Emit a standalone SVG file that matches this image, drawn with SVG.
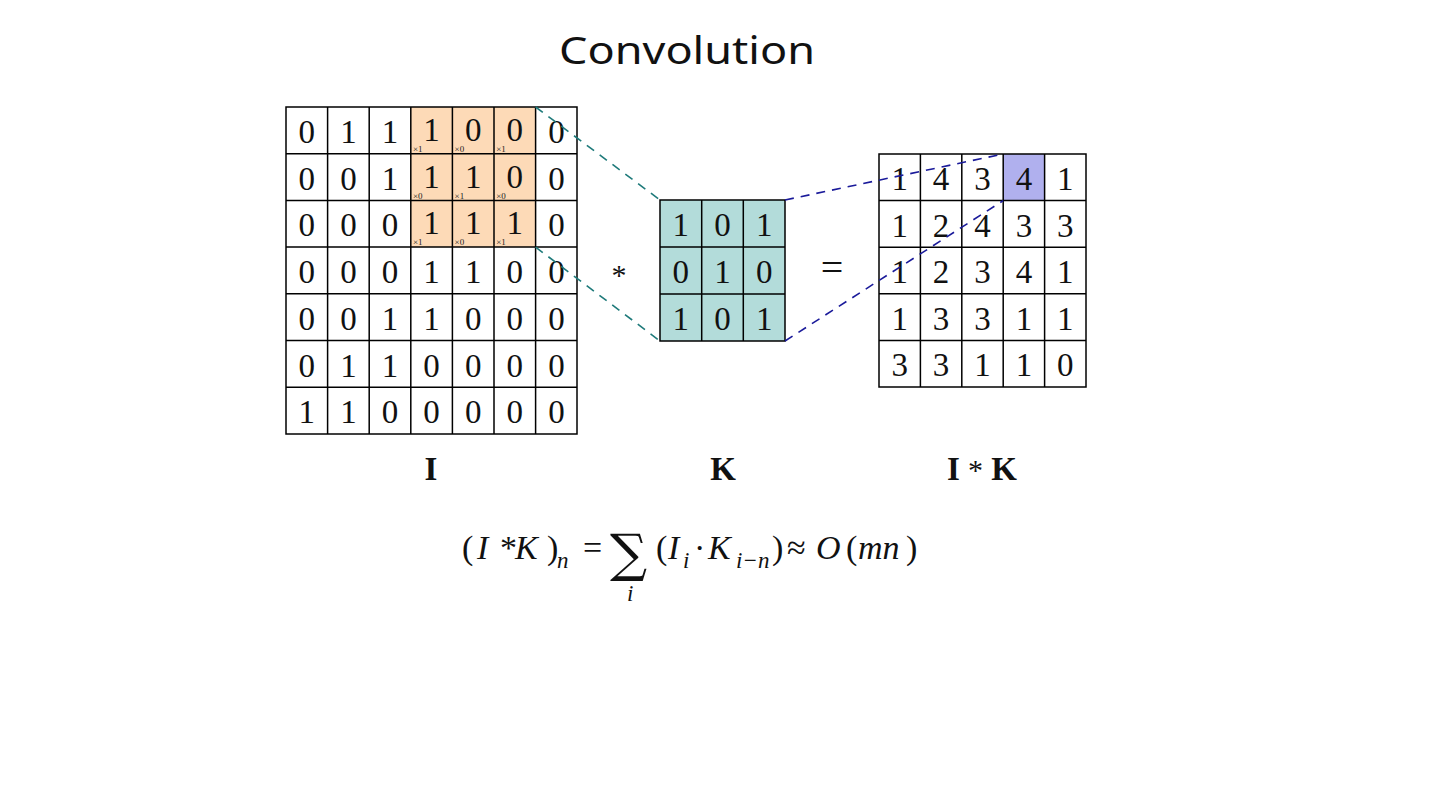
<svg xmlns="http://www.w3.org/2000/svg" width="1440" height="810" viewBox="0 0 1440 810">
<style>
.num{font-family:'Liberation Serif',serif;font-size:33px;fill:#111;text-anchor:middle}
.sub{font-family:'Liberation Serif',serif;font-size:9px;fill:#222}
.grid{fill:none;stroke:#000;stroke-width:1.5}
.lab{font-family:'Liberation Serif',serif;font-size:33px;font-weight:bold;fill:#111;text-anchor:middle}
.f{font-family:'Liberation Serif',serif;font-size:34px;fill:#111}
.fi{font-family:'Liberation Serif',serif;font-size:34px;font-style:italic;fill:#111}
.fs{font-family:'Liberation Serif',serif;font-size:23px;font-style:italic;fill:#111}
.teal{stroke:#1E7A7A;stroke-width:1.6;stroke-dasharray:9 7;fill:none}
.navy{stroke:#1A1A9A;stroke-width:1.6;stroke-dasharray:9 7;fill:none}
</style>
<rect width="1440" height="810" fill="#fff"/>
<text id="title" x="687" y="64" font-family="'Noto Sans',sans-serif" font-size="38" text-anchor="middle" fill="#111" textLength="256" lengthAdjust="spacingAndGlyphs">Convolution</text>

<g id="matrix-I">
<rect x="411" y="107" width="124.8" height="140.1" fill="#FDDAB7"/>
<rect class="grid" x="286" y="107" width="291" height="327"/>
<path class="grid" d="M327.6 107V434M369.2 107V434M410.8 107V434M452.4 107V434M494 107V434M535.6 107V434M286 153.7H577M286 200.4H577M286 247.1H577M286 293.8H577M286 340.5H577M286 387.2H577"/>
<text class="num" x="306.8 348.4 390" y="143">011</text><text class="num" x="431.6 473.2 514.8" y="141">100</text><text class="num" x="556.4" y="143">0</text>
<text class="num" x="306.8 348.4 390" y="189.7">001</text><text class="num" x="431.6 473.2 514.8" y="187.7">110</text><text class="num" x="556.4" y="189.7">0</text>
<text class="num" x="306.8 348.4 390" y="236.4">000</text><text class="num" x="431.6 473.2 514.8" y="234.4">111</text><text class="num" x="556.4" y="236.4">0</text>
<text class="num" x="306.8 348.4 390 431.6 473.2 514.8 556.4" y="283.1">0001100</text>
<text class="num" x="306.8 348.4 390 431.6 473.2 514.8 556.4" y="329.8">0011000</text>
<text class="num" x="306.8 348.4 390 431.6 473.2 514.8 556.4" y="376.5">0110000</text>
<text class="num" x="306.8 348.4 390 431.6 473.2 514.8 556.4" y="423.2">1100000</text>
<text class="sub" x="413" y="152">×1</text><text class="sub" x="454.6" y="152">×0</text><text class="sub" x="496.2" y="152">×1</text>
<text class="sub" x="413" y="198.7">×0</text><text class="sub" x="454.6" y="198.7">×1</text><text class="sub" x="496.2" y="198.7">×0</text>
<text class="sub" x="413" y="245.4">×1</text><text class="sub" x="454.6" y="245.4">×0</text><text class="sub" x="496.2" y="245.4">×1</text>
</g>

<g id="op-star"><text x="619" y="285" text-anchor="middle" font-family="'Liberation Serif',serif" font-size="30" fill="#111">*</text></g>

<g id="matrix-K">
<rect x="660" y="200" width="125" height="141" fill="#B3DCDA"/>
<rect class="grid" x="660" y="200" width="125" height="141"/>
<path class="grid" d="M701.7 200V341M743.3 200V341M660 247H785M660 294H785"/>
<text class="num" x="680.8 722.5 764.2" y="236">101</text>
<text class="num" x="680.8 722.5 764.2" y="283">010</text>
<text class="num" x="680.8 722.5 764.2" y="330">101</text>
</g>

<g id="op-eq"><text x="832" y="281" text-anchor="middle" font-family="'Liberation Serif',serif" font-size="40" fill="#111">=</text></g>

<g id="matrix-IK">
<rect x="1003.2" y="154" width="41.4" height="46.6" fill="#B0B0EE"/>
<rect class="grid" x="879" y="154" width="207" height="233"/>
<path class="grid" d="M920.4 154V387M961.8 154V387M1003.2 154V387M1044.6 154V387M879 200.6H1086M879 247.2H1086M879 293.8H1086M879 340.4H1086"/>
<text class="num" x="899.7 941.1 982.5 1023.9 1065.3" y="190">14341</text>
<text class="num" x="899.7 941.1 982.5 1023.9 1065.3" y="236.6">12433</text>
<text class="num" x="899.7 941.1 982.5 1023.9 1065.3" y="283.2">12341</text>
<text class="num" x="899.7 941.1 982.5 1023.9 1065.3" y="329.8">13311</text>
<text class="num" x="899.7 941.1 982.5 1023.9 1065.3" y="376.4">33110</text>
</g>

<g id="connectors">
<line class="teal" x1="535.6" y1="107" x2="660" y2="200"/>
<line class="teal" x1="535.6" y1="247.1" x2="660" y2="341"/>
<line class="navy" x1="785" y1="200" x2="1003.2" y2="154"/>
<line class="navy" x1="785" y1="341" x2="1003.2" y2="200.6"/>
</g>

<g id="labels">
<text class="lab" x="431" y="480">I</text>
<text class="lab" x="723" y="480">K</text>
<text class="lab" x="982" y="480">I <tspan font-weight="normal" font-size="30">*</tspan> K</text>
</g>

<g id="formula">
<text class="f" x="462" y="559">(</text>
<text class="fi" x="477" y="559">I</text>
<text class="f" x="500" y="559">*</text>
<text class="fi" x="515" y="559">K</text>
<text class="f" x="547" y="559">)</text>
<text class="fs" x="557" y="568">n</text>
<text class="f" x="583" y="559">=</text>
<text x="610" y="571" font-family="'DejaVu Serif',serif" font-size="52" fill="#111">∑</text>
<text class="fs" x="627" y="601">i</text>
<text class="f" x="656" y="559">(</text>
<text class="fi" x="668" y="559">I</text>
<text class="fs" x="683" y="568">i</text>
<text class="f" x="694" y="559">·</text>
<text class="fi" x="708" y="559">K</text>
<text class="fs" x="736" y="568">i−n</text>
<text class="f" x="772" y="559">)</text>
<text class="f" x="787" y="559">≈</text>
<text class="fi" x="816" y="559">O</text>
<text class="f" x="846" y="559">(</text>
<text class="fi" x="858" y="559">mn</text>
<text class="f" x="906" y="559">)</text>
</g>
</svg>
